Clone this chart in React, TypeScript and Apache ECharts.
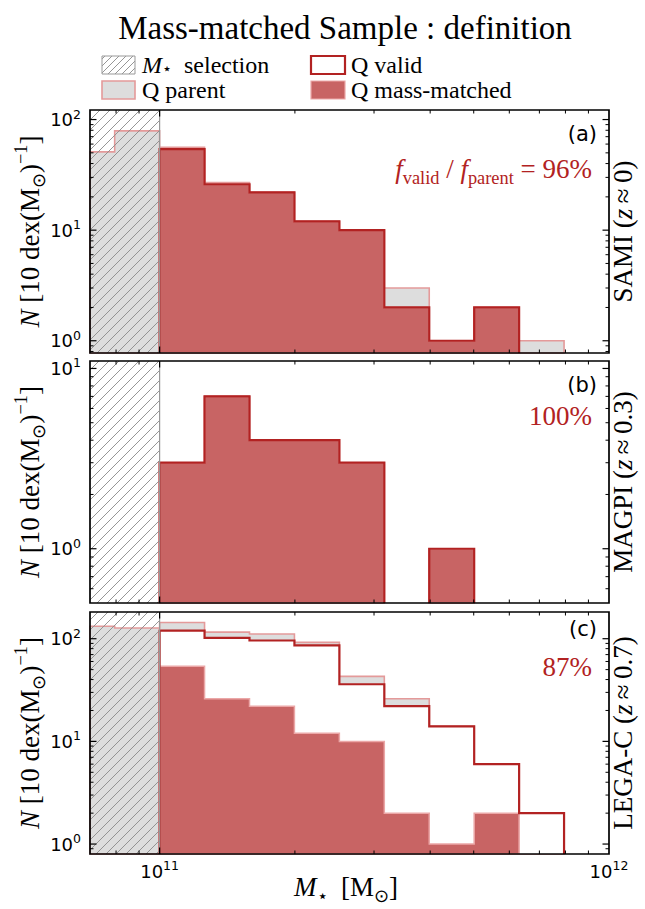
import React, { useEffect, useRef } from 'react';
import * as echarts from 'echarts';

// ---------- data ----------
const massBinEdgesLog = [10.8, 10.9, 11.0, 11.1, 11.2, 11.3, 11.4, 11.5, 11.6, 11.7, 11.8, 11.9, 12.0];

const samiParent = [51, 79, 56, 27, 22, 12, 10, 3, 1, 2, 1, 0];
const samiValid = [0, 0, 54, 26, 22, 12, 10, 2, 1, 2, 0, 0];
const samiMatched = [0, 0, 54, 26, 22, 12, 10, 2, 1, 2, 0, 0];

const magpiParent = [0, 0, 3, 7, 4, 4, 3, 0, 1, 0, 0, 0];
const magpiValid = [0, 0, 3, 7, 4, 4, 3, 0, 1, 0, 0, 0];
const magpiMatched = [0, 0, 3, 7, 4, 4, 3, 0, 1, 0, 0, 0];

const legacParent = [132, 127, 144, 116, 111, 92, 43, 26, 14, 6, 2, 0];
const legacValid = [0, 0, 120, 102, 96, 86, 36, 22, 14, 6, 2, 0];
const legacMatched = [0, 0, 54, 26, 22, 12, 10, 2, 1, 2, 0, 0];

const selectionLimit = 1e11;
const xLimits = [7e10, 1e12];
const yLimits = [
  [0.775, 122],
  [0.5, 11],
  [0.8, 182],
];

const xMajorTicks = [1e11, 1e12];
const xMinorTicks = [8e10, 9e10, 2e11, 3e11, 4e11, 5e11, 6e11, 7e11, 8e11, 9e11];
const yMajorTicks = [1, 10, 100];
const yMinorTicks = [0.5, 0.6, 0.7, 0.8, 0.9, 2, 3, 4, 5, 6, 7, 8, 9, 20, 30, 40, 50, 60, 70, 80, 90, 200];

const panelTags = ['(a)', '(b)', '(c)'];
const fractionTexts = ['96%', '100%', '87%'];
const surveyNames = ['SAMI', 'MAGPI', 'LEGA-C'];
const surveyRedshifts = ['0', '0.3', '0.7'];

// ---------- style ----------
const SERIF = 'Liberation Serif';
const SANS = 'DejaVu Sans';
const RED = '#b22222';
const MATCHED_FILL = '#c86464';
const PARENT_FILL = '#dddddd';
const PARENT_EDGE = '#e49a9a';
const MATCHED_EDGE = '#eba7a7';
const HATCH = '#8a8a8a';

const panels = [
  { top: 110, height: 243, parent: samiParent, valid: samiValid, matched: samiMatched },
  { top: 361, height: 242, parent: magpiParent, valid: magpiValid, matched: magpiMatched },
  { top: 612, height: 242, parent: legacParent, valid: legacValid, matched: legacMatched },
];
const GRID_LEFT = 90;
const GRID_WIDTH = 519;

const clamp = (v: number, a: number, b: number) => Math.max(a, Math.min(b, v));

function hatchSegments(L: number, T: number, R: number, B: number, s: number) {
  const segs: number[][] = [];
  const c0 = Math.ceil((L + T) / s) * s;
  for (let c = c0; c <= R + B; c += s) {
    const lo = Math.max(L, c - B);
    const hi = Math.min(R, c - T);
    if (hi > lo) segs.push([lo, c - lo, hi, c - hi]);
  }
  return segs;
}

// runs of consecutive non-zero bins -> list of step outlines (closed to the bottom)
function stepRuns(counts: number[], api: any, cs: any) {
  const L = cs.x, R = cs.x + cs.width, T = cs.y, B = cs.y + cs.height;
  const px = (lg: number) => clamp(api.coord([Math.pow(10, lg), 1])[0], L, R);
  const py = (v: number) => clamp(api.coord([selectionLimit, v])[1], T, B);
  const runs: number[][][] = [];
  let cur: number[][] | null = null;
  counts.forEach((v, i) => {
    if (v > 0) {
      if (!cur) {
        cur = [[px(massBinEdgesLog[i]), B]];
      }
      cur.push([px(massBinEdgesLog[i]), py(v)]);
      cur.push([px(massBinEdgesLog[i + 1]), py(v)]);
    } else if (cur) {
      cur.push([px(massBinEdgesLog[i]), B]);
      runs.push(cur);
      cur = null;
    }
  });
  if (cur) {
    (cur as number[][]).push([px(massBinEdgesLog[counts.length]), B]);
    runs.push(cur);
  }
  return runs;
}

const filledHist = (counts: number[], fill: string, stroke: string | null, lw: number) => (params: any, api: any) => {
  const runs = stepRuns(counts, api, params.coordSys);
  return {
    type: 'group',
    children: runs.map((pts) => ({ type: 'polygon', shape: { points: pts }, style: { fill, stroke, lineWidth: lw } })),
  };
};

const stepHist = (counts: number[], stroke: string, lw: number) => (params: any, api: any) => {
  const runs = stepRuns(counts, api, params.coordSys);
  return {
    type: 'group',
    children: runs.map((pts) => ({ type: 'polyline', shape: { points: pts }, style: { fill: null, stroke, lineWidth: lw } })),
  };
};

const hatchRender = (params: any, api: any) => {
  const cs = params.coordSys;
  const L = cs.x, T = cs.y, B = cs.y + cs.height;
  const R = api.coord([selectionLimit, 1])[0];
  const children: any[] = hatchSegments(L, T, R, B, 10).map((s) => ({
    type: 'line',
    shape: { x1: s[0], y1: s[1], x2: s[2], y2: s[3] },
    style: { stroke: HATCH, lineWidth: 0.9 },
  }));
  children.push({ type: 'line', shape: { x1: R, y1: T, x2: R, y2: B }, style: { stroke: '#999', lineWidth: 1.2 } });
  return { type: 'group', children };
};

const frameRender = (pi: number) => (params: any, api: any) => {
  const cs = params.coordSys;
  const L = cs.x, R = cs.x + cs.width, T = cs.y, B = cs.y + cs.height;
  const [ymin, ymax] = yLimits[pi];
  const children: any[] = [];
  const addX = (v: number, len: number, lw: number) => {
    const x = api.coord([v, ymin * 1.01])[0];
    if (x <= L + 0.5 || x >= R - 0.5) return;
    children.push({ type: 'line', shape: { x1: x, y1: B, x2: x, y2: B - len }, style: { stroke: '#000', lineWidth: lw } });
    children.push({ type: 'line', shape: { x1: x, y1: T, x2: x, y2: T + len }, style: { stroke: '#000', lineWidth: lw } });
  };
  const addY = (v: number, len: number, lw: number) => {
    if (v <= ymin || v >= ymax) return;
    const y = api.coord([selectionLimit, v])[1];
    children.push({ type: 'line', shape: { x1: L, y1: y, x2: L + len, y2: y }, style: { stroke: '#000', lineWidth: lw } });
    children.push({ type: 'line', shape: { x1: R, y1: y, x2: R - len, y2: y }, style: { stroke: '#000', lineWidth: lw } });
  };
  xMajorTicks.forEach((v) => addX(v, 6.5, 1.2));
  xMinorTicks.forEach((v) => addX(v, 3.5, 1));
  yMajorTicks.forEach((v) => addY(v, 6.5, 1.2));
  yMinorTicks.forEach((v) => addY(v, 3.5, 1));
  children.push({ type: 'rect', shape: { x: L, y: T, width: R - L, height: B - T }, style: { fill: null, stroke: '#000', lineWidth: 1.7 } });
  return { type: 'group', children };
};

const powLabel = (v: number) => {
  const e = Math.log10(v);
  const r = Math.round(e);
  if (Math.abs(e - r) > 1e-6) return '';
  return `{b|10}{s|${r}}`;
};
const tickRich = {
  b: { fontFamily: SANS, fontSize: 18, color: '#000', lineHeight: 24 },
  s: { fontFamily: SANS, fontSize: 12.5, color: '#000', lineHeight: 13, verticalAlign: 'top' },
};

const serifRich = (size: number, color = '#000', lh = 1.3) => ({
  rm: { fontFamily: SERIF, fontSize: size, fill: color, lineHeight: size * lh },
  it: { fontFamily: SERIF, fontSize: size, fontStyle: 'italic', fill: color, lineHeight: size * lh },
  sup: { fontFamily: SERIF, fontSize: size * 0.68, fill: color, lineHeight: size * 0.75, verticalAlign: 'top' },
  sub: { fontFamily: SERIF, fontSize: size * 0.68, fill: color, lineHeight: size * 0.75, verticalAlign: 'bottom' },
});

function buildOption() {
  const grid = panels.map((p) => ({
    left: GRID_LEFT,
    top: p.top,
    width: GRID_WIDTH,
    height: p.height,
    containLabel: false,
    outerBoundsMode: 'none',
  }));
  const xAxis = panels.map((p, i) => ({
    type: 'log',
    logBase: 10,
    gridIndex: i,
    min: xLimits[0],
    max: xLimits[1],
    axisLine: { show: false },
    axisTick: { show: false },
    splitLine: { show: false },
    axisLabel: {
      show: i === 2,
      margin: 5,
      formatter: powLabel,
      rich: tickRich,
      showMinLabel: true,
      showMaxLabel: true,
    },
  }));
  const yAxis = panels.map((p, i) => ({
    type: 'log',
    logBase: 10,
    gridIndex: i,
    min: yLimits[i][0],
    max: yLimits[i][1],
    axisLine: { show: false },
    axisTick: { show: false },
    splitLine: { show: false },
    axisLabel: { show: true, margin: 9, formatter: powLabel, rich: tickRich, showMinLabel: true, showMaxLabel: true },
  }));

  const series: any[] = [];
  panels.forEach((p, i) => {
    const base = { type: 'custom', coordinateSystem: 'cartesian2d', xAxisIndex: i, yAxisIndex: i, silent: true, data: [[selectionLimit, 1]] };
    series.push({ ...base, name: `parent-${i}`, z: 2, renderItem: filledHist(p.parent, PARENT_FILL, PARENT_EDGE, 1.6) });
    series.push({ ...base, name: `valid-fill-${i}`, z: 3, renderItem: filledHist(p.valid, '#ffffff', null, 0) });
    series.push({ ...base, name: `matched-${i}`, z: 4, renderItem: filledHist(p.matched, MATCHED_FILL, MATCHED_EDGE, 1.5) });
    series.push({ ...base, name: `valid-${i}`, z: 5, renderItem: stepHist(p.valid, RED, 2.2) });
    series.push({ ...base, name: `hatch-${i}`, z: 6, renderItem: hatchRender });
    series.push({ ...base, name: `frame-${i}`, z: 10, renderItem: frameRender(i) });
  });

  const graphic: any[] = [];
  // title
  graphic.push({
    type: 'text', x: 345, y: 28,
    style: { text: '{rm|Mass-matched Sample : definition}', rich: serifRich(33, '#000', 1.1), align: 'center', verticalAlign: 'middle' },
  });
  // legend
  const lr = serifRich(24, '#000', 0.95);
  hatchSegments(102, 56, 135, 74, 7).forEach((s) =>
    graphic.push({ type: 'line', shape: { x1: s[0], y1: s[1], x2: s[2], y2: s[3] }, style: { stroke: HATCH, lineWidth: 0.9 } })
  );
  graphic.push({ type: 'rect', shape: { x: 102, y: 56, width: 33, height: 18 }, style: { fill: null, stroke: '#999', lineWidth: 1 } });
  graphic.push({ type: 'rect', shape: { x: 102, y: 81, width: 33, height: 18 }, style: { fill: PARENT_FILL, stroke: PARENT_EDGE, lineWidth: 1.6 } });
  graphic.push({ type: 'rect', shape: { x: 311, y: 56, width: 34, height: 18 }, style: { fill: '#fff', stroke: RED, lineWidth: 2.2 } });
  graphic.push({ type: 'rect', shape: { x: 311, y: 81, width: 34, height: 18 }, style: { fill: MATCHED_FILL, stroke: MATCHED_EDGE, lineWidth: 1.2 } });
  const legendText = (x: number, y: number, text: string) =>
    graphic.push({ type: 'text', x, y, style: { text, rich: lr, align: 'left', verticalAlign: 'middle' } });
  legendText(142, 65, '{it|M}{sub|⋆}{rm|  selection}');
  legendText(142, 90, '{rm|Q parent}');
  legendText(351, 65, '{rm|Q valid}');
  legendText(351, 90, '{rm|Q mass-matched}');

  // per-panel texts
  const tagY = [133.5, 385, 629];
  const fracY = [169, 416, 667];
  panels.forEach((p, i) => {
    const cy = p.top + p.height / 2;
    graphic.push({
      type: 'text', x: 30, y: cy, rotation: Math.PI / 2,
      style: { text: '{it|N}{rm| [10 dex(M}{sub|⊙}{rm|)}{sup|−1}{rm|]}', rich: serifRich(27), align: 'center', verticalAlign: 'middle' },
    });
    graphic.push({
      type: 'text', x: 623, y: cy, rotation: Math.PI / 2,
      style: { text: `{rm|${surveyNames[i]} (}{it|z}{rm|\u2009≈\u2009${surveyRedshifts[i]})}`, rich: serifRich(27), align: 'center', verticalAlign: 'middle' },
    });
    graphic.push({
      type: 'text', x: 597, y: tagY[i],
      style: { text: panelTags[i], font: `21px "${SANS}"`, fontFamily: SANS, fontSize: 21, fill: '#000', align: 'right', verticalAlign: 'middle' },
    });
    const frac = i === 0
      ? `{it|f}{sub|valid}{rm| / }{it|f}{sub|parent}{rm| = ${fractionTexts[i]}}`
      : `{rm|${fractionTexts[i]}}`;
    graphic.push({
      type: 'text', x: 592, y: fracY[i],
      style: { text: frac, rich: serifRich(27, RED), align: 'right', verticalAlign: 'middle' },
    });
  });
  // x label
  graphic.push({
    type: 'text', x: 346, y: 887,
    style: { text: '{it|M}{sub|⋆}{rm|  [M}{sub|⊙}{rm|]}', rich: serifRich(27), align: 'center', verticalAlign: 'middle' },
  });

  return { animation: false, backgroundColor: '#ffffff', grid, xAxis, yAxis, series, graphic };
}

export default function App() {
  const ref = useRef<HTMLDivElement>(null);
  useEffect(() => {
    if (!ref.current) return;
    const chart = echarts.init(ref.current, null, { renderer: 'svg' });
    chart.setOption(buildOption() as any);
    return () => chart.dispose();
  }, []);
  return (
    <div
      ref={ref}
      style={{ position: 'fixed', left: 0, top: 0, width: 645, height: 909, background: '#fff' }}
    />
  );
}
